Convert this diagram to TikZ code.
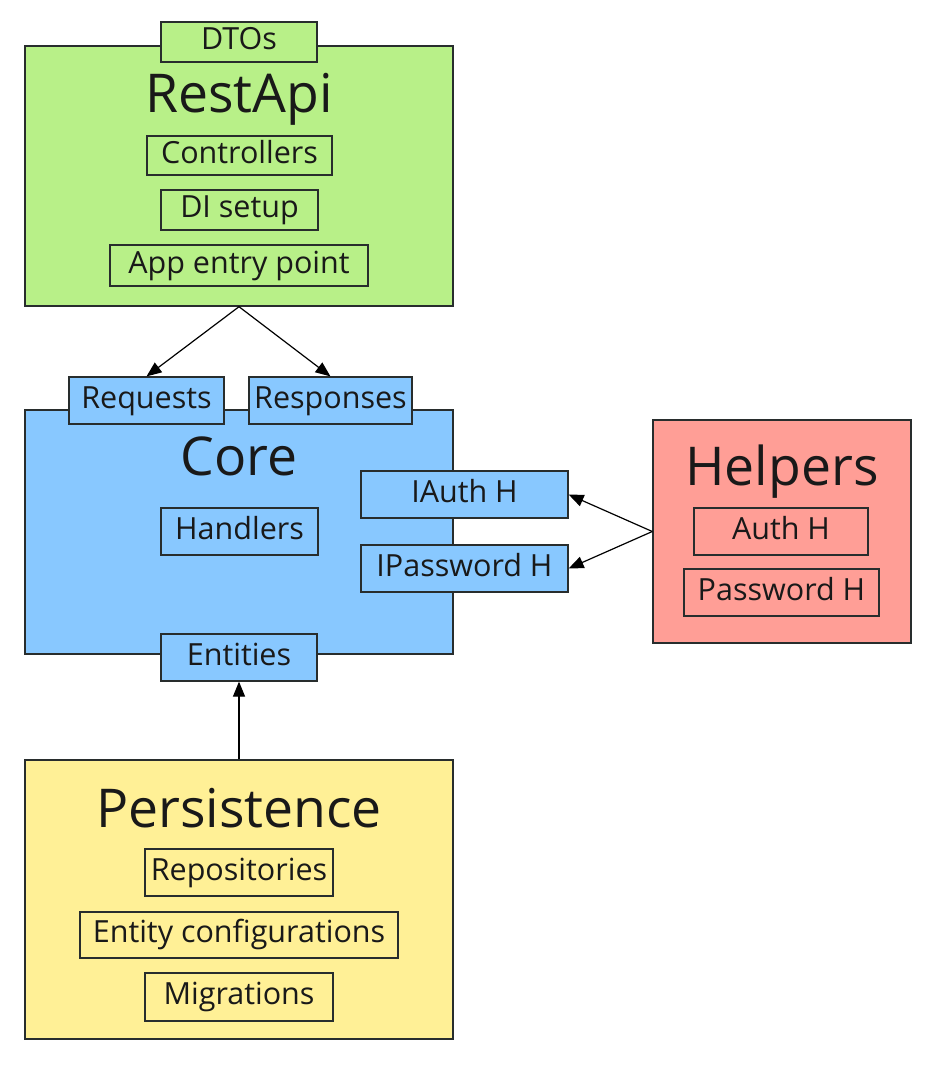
\documentclass[tikz,border=0pt]{standalone}
\usepackage{fontspec}
\setmainfont{Open Sans}
\usetikzlibrary{arrows.meta}
\definecolor{cgreen}{RGB}{184,240,136}
\definecolor{cblue}{RGB}{136,200,255}
\definecolor{cred}{RGB}{255,158,150}
\definecolor{cyellow}{RGB}{255,240,150}
\definecolor{cborder}{RGB}{40,45,45}
\definecolor{ctext}{RGB}{25,25,25}
\begin{document}
\begin{tikzpicture}[x=1pt,y=-1pt,
  outer/.style={draw=cborder, line width=1.4pt, inner sep=0pt},
  sub/.style={draw=cborder, line width=1.2pt, inner sep=0pt, font=\fontsize{30.5}{33}\selectfont, text=ctext, text height=22pt, text depth=7pt},
  ttl/.style={font=\fontsize{53.5}{58}\selectfont, text=ctext, anchor=base, inner sep=0pt},
  arr/.style={draw=black, line width=1.2pt, -{Triangle[length=15pt,width=12pt]}}
]
\useasboundingbox (0,0) rectangle (937,1066);
% RestApi
\node[outer, fill=cgreen, minimum width=428pt, minimum height=260pt] (restapi) at (239,176) {};
\node[sub, fill=cgreen, minimum width=156pt, minimum height=40pt] (dtos) at (239,42) {DTOs};
\node[ttl] (restapiT) at (239,112) {RestApi};
\node[sub, fill=cgreen, minimum width=185pt, minimum height=39pt] (ctrl) at (239.5,155.5) {Controllers};
\node[sub, fill=cgreen, minimum width=157pt, minimum height=40pt] (di) at (239.5,210) {DI setup};
\node[sub, fill=cgreen, minimum width=258pt, minimum height=41pt] (app) at (239,265.5) {App entry point};
% Core
\node[outer, fill=cblue, minimum width=428pt, minimum height=244pt] (core) at (239,532) {};
\node[sub, fill=cblue, minimum width=155pt, minimum height=47pt] (req) at (146.5,400.5) {Requests};
\node[sub, fill=cblue, minimum width=163pt, minimum height=47pt] (resp) at (330.5,400.5) {Responses};
\node[ttl] (coreT) at (239,475) {Core};
\node[sub, fill=cblue, minimum width=157pt, minimum height=47pt] (handlers) at (239.5,531.5) {Handlers};
\node[sub, fill=cblue, minimum width=207pt, minimum height=47pt] (iauth) at (464.5,494.5) {IAuth H};
\node[sub, fill=cblue, minimum width=207pt, minimum height=47pt] (ipass) at (464.5,568.5) {IPassword H};
\node[sub, fill=cblue, minimum width=156pt, minimum height=47pt] (entities) at (239,657.5) {Entities};
% Helpers
\node[outer, fill=cred, minimum width=258pt, minimum height=223pt] (helpers) at (782,531.5) {};
\node[ttl] (helpersT) at (782,485) {Helpers};
\node[sub, fill=cred, minimum width=174pt, minimum height=47pt] (authh) at (781,531.5) {Auth H};
\node[sub, fill=cred, minimum width=195pt, minimum height=47pt] (passh) at (781.5,592.5) {Password H};
% Persistence
\node[outer, fill=cyellow, minimum width=428pt, minimum height=279pt] (persist) at (239,899.5) {};
\node[ttl] (persistT) at (239,827) {Persistence};
\node[sub, fill=cyellow, minimum width=188pt, minimum height=47pt] (repo) at (239,872.5) {Repositories};
\node[sub, fill=cyellow, minimum width=318pt, minimum height=46pt] (entconf) at (239,935) {Entity configurations};
\node[sub, fill=cyellow, minimum width=188pt, minimum height=48pt] (migr) at (239,997) {Migrations};
% Arrows
\draw[arr] (restapi.south) -- (req.north);
\draw[arr] (restapi.south) -- (resp.north);
\draw[arr] (helpers.west) -- (iauth.east);
\draw[arr] (helpers.west) -- (ipass.east);
\draw[arr] (persist.north) -- (entities.south);
\end{tikzpicture}
\end{document}
